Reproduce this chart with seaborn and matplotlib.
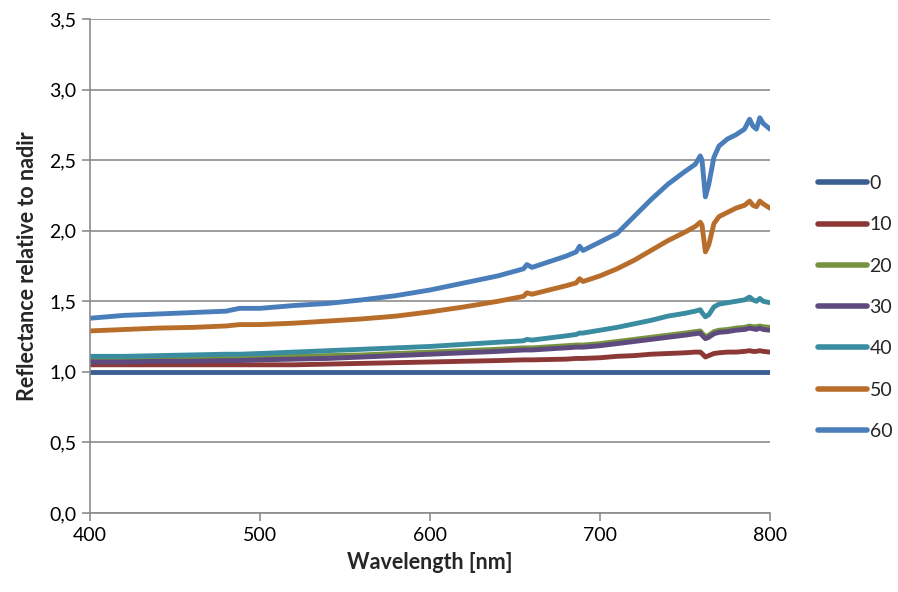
import numpy as np
import pandas as pd
import matplotlib
matplotlib.use("Agg")
import matplotlib.pyplot as plt
import seaborn as sns
from matplotlib.ticker import FuncFormatter

# shared wavelength grid (nm)
wavelength = [400, 420, 440, 460, 480, 488, 500, 520, 540, 560, 580, 600, 620, 640,
              655, 657, 660, 680, 686, 688, 690, 700, 710, 720, 730, 740, 750, 756,
              759, 760, 762, 764, 767, 770, 775, 780, 785, 788, 790, 792, 794, 796, 800]

# reflectance relative to nadir, per view angle
r0 = [1.00] * len(wavelength)
r10 = [1.05, 1.05, 1.05, 1.05, 1.05, 1.05, 1.05, 1.05, 1.055, 1.06, 1.065, 1.07, 1.075, 1.08,
       1.085, 1.085, 1.085, 1.09, 1.095, 1.095, 1.095, 1.10, 1.11, 1.115, 1.125, 1.13, 1.135, 1.14,
       1.14, 1.13, 1.105, 1.115, 1.13, 1.135, 1.14, 1.14, 1.145, 1.15, 1.145, 1.145, 1.15, 1.145, 1.14]
r20 = [1.09, 1.09, 1.095, 1.095, 1.10, 1.10, 1.105, 1.11, 1.115, 1.12, 1.13, 1.14, 1.15, 1.16,
       1.17, 1.17, 1.17, 1.185, 1.19, 1.19, 1.19, 1.20, 1.215, 1.23, 1.245, 1.26, 1.275, 1.285,
       1.29, 1.275, 1.25, 1.26, 1.285, 1.295, 1.30, 1.31, 1.315, 1.325, 1.32, 1.32, 1.325, 1.32, 1.315]
r30 = [1.07, 1.07, 1.075, 1.075, 1.08, 1.08, 1.085, 1.09, 1.095, 1.105, 1.115, 1.125, 1.135, 1.145,
       1.155, 1.155, 1.155, 1.17, 1.175, 1.175, 1.175, 1.185, 1.20, 1.215, 1.23, 1.245, 1.26, 1.27,
       1.275, 1.26, 1.235, 1.245, 1.27, 1.28, 1.285, 1.295, 1.30, 1.31, 1.305, 1.30, 1.31, 1.30, 1.295]
r40 = [1.11, 1.11, 1.115, 1.12, 1.125, 1.125, 1.13, 1.14, 1.15, 1.16, 1.17, 1.18, 1.195, 1.21,
       1.22, 1.23, 1.225, 1.255, 1.265, 1.275, 1.275, 1.295, 1.315, 1.34, 1.365, 1.395, 1.415, 1.43,
       1.44, 1.42, 1.39, 1.405, 1.46, 1.48, 1.49, 1.50, 1.51, 1.53, 1.51, 1.50, 1.52, 1.50, 1.49]
r50 = [1.29, 1.30, 1.31, 1.315, 1.325, 1.335, 1.335, 1.345, 1.36, 1.375, 1.395, 1.425, 1.46, 1.50,
       1.535, 1.56, 1.55, 1.61, 1.63, 1.66, 1.64, 1.68, 1.73, 1.79, 1.86, 1.93, 1.99, 2.03,
       2.06, 2.04, 1.85, 1.90, 2.05, 2.10, 2.13, 2.16, 2.18, 2.21, 2.18, 2.17, 2.21, 2.19, 2.16]
r60 = [1.38, 1.40, 1.41, 1.42, 1.43, 1.45, 1.45, 1.47, 1.485, 1.51, 1.54, 1.58, 1.63, 1.68,
       1.73, 1.76, 1.74, 1.82, 1.85, 1.89, 1.86, 1.92, 1.98, 2.10, 2.22, 2.33, 2.42, 2.47,
       2.53, 2.50, 2.24, 2.33, 2.52, 2.60, 2.65, 2.68, 2.72, 2.79, 2.74, 2.72, 2.80, 2.76, 2.72]

angles = ["0", "10", "20", "30", "40", "50", "60"]
colors = ["#3A5F91", "#8C3836", "#779340", "#5E4A7E", "#3A8CA0", "#B86E2A", "#4A7EBB"]

rows = []
for name, vals in zip(angles, [r0, r10, r20, r30, r40, r50, r60]):
    for w, v in zip(wavelength, vals):
        rows.append({"Wavelength": w, "Reflectance": v, "Angle": name})
df = pd.DataFrame(rows)

sns.set_style("white")
plt.rcParams["font.family"] = ["Lato", "DejaVu Sans"]

fig = plt.figure(figsize=(8.98, 5.92), dpi=100)
ax = fig.add_axes([90 / 898, 1 - 513 / 592, 680 / 898, 494 / 592])

sns.lineplot(data=df, x="Wavelength", y="Reflectance", hue="Angle",
             hue_order=angles, palette=colors, linewidth=3.5, ax=ax, legend=True)

ax.set_xlim(400, 800)
ax.set_ylim(0, 3.5)
ax.set_xticks([400, 500, 600, 700, 800])
ax.set_yticks(np.arange(0, 3.51, 0.5))
ax.yaxis.set_major_formatter(FuncFormatter(lambda v, p: f"{v:.1f}".replace(".", ",")))
ax.grid(axis="y", color="#8C8C8C", linewidth=1.2)
ax.grid(axis="x", visible=False)
ax.set_axisbelow(True)
for side in ["top", "right"]:
    ax.spines[side].set_visible(False)
for side in ["left", "bottom"]:
    ax.spines[side].set_color("#8C8C8C")
    ax.spines[side].set_linewidth(1.2)
ax.tick_params(axis="both", direction="out", length=6, width=1.2, color="#8C8C8C",
               labelsize=14, labelcolor="black", pad=4, left=True, bottom=True)

ax.set_xlabel("Wavelength [nm]", fontsize=15.5, fontweight="bold", labelpad=6)
ax.set_ylabel("Reflectance relative to nadir", fontsize=15.5, fontweight="bold", labelpad=8)

leg = ax.legend(loc="upper left", bbox_to_anchor=(818 / 898, 1 - 175 / 592),
                bbox_transform=fig.transFigure, frameon=False, fontsize=14,
                handlelength=2.5, handletextpad=0.15, labelspacing=1.25,
                borderpad=0, borderaxespad=0)
for line in leg.get_lines():
    line.set_linewidth(4)

fig.savefig("out.png", dpi=100)
